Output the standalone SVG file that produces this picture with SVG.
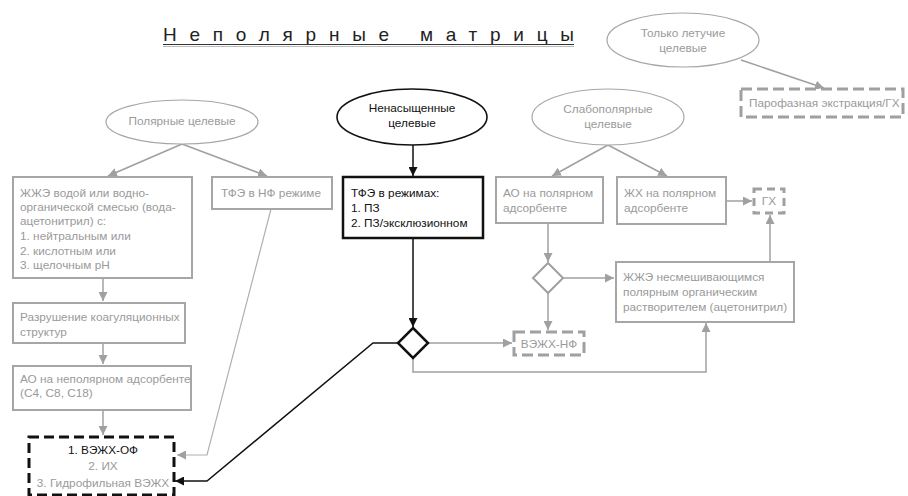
<svg xmlns="http://www.w3.org/2000/svg" width="908" height="496" viewBox="0 0 908 496">
<defs>
<style>
text{font-family:"Liberation Sans",Arial,sans-serif;font-size:11.8px;fill:#9a9a9a}
.dk{fill:#111}
.c{text-anchor:middle}
.gbox{fill:#fff;stroke:#a6a6a6;stroke-width:2}
.bbox{fill:#fff;stroke:#111;stroke-width:2.5}
.gdash{fill:#fff;stroke:#a0a0a0;stroke-width:3;stroke-dasharray:11 5}
.bdash{fill:#fff;stroke:#111;stroke-width:3;stroke-dasharray:10 5}
.gell{fill:#fff;stroke:#a6a6a6;stroke-width:1.2}
.bell{fill:#fff;stroke:#111;stroke-width:1.6}
.gl{fill:none;stroke:#a0a0a0;stroke-width:1.5;marker-end:url(#ga)}
.bl{fill:none;stroke:#111;stroke-width:1.5;marker-end:url(#ba)}
</style>
<marker id="ga" markerUnits="userSpaceOnUse" markerWidth="9" markerHeight="9" refX="9" refY="4.5" orient="auto"><path d="M0,0 L9,4.5 L0,9 z" fill="#a0a0a0"/></marker>
<marker id="ba" markerUnits="userSpaceOnUse" markerWidth="9" markerHeight="9" refX="9" refY="4.5" orient="auto"><path d="M0,0 L9,4.5 L0,9 z" fill="#111"/></marker>
</defs>
<rect width="908" height="496" fill="#fff"/>

<g id="title">
<text x="163" y="41" class="dk" style="font-size:19px;fill:#222" textLength="411" lengthAdjust="spacing">Неполярные матрицы</text>
<line x1="163" y1="44.5" x2="574" y2="44.5" stroke="#333" stroke-width="1.2"/>
<line x1="163" y1="46.5" x2="574" y2="46.5" stroke="#bbb" stroke-width="1.2"/>
</g>

<g id="connectors">
<path class="gl" d="M182,144 L108,176"/>
<path class="gl" d="M182,144 L267,176"/>
<path class="bl" d="M413,145 L413,176"/>
<path class="bl" d="M413,238 L413,327"/>
<path class="gl" d="M428,343 L512,343"/>
<path class="bl" d="M398,343 L373,343 L207,481 L175,481"/>
<path class="gl" d="M413,358 L413,372 L706,372 L706,323"/>
<path class="gl" d="M271,209 L207,455 L177,455" style="stroke:#b0b0b0;stroke-width:1.2"/>
<path class="gl" d="M103,278 L103,301"/>
<path class="gl" d="M103,343 L103,364"/>
<path class="gl" d="M103,410 L103,435"/>
<path class="gl" d="M608,145 L552,176"/>
<path class="gl" d="M608,145 L667,176"/>
<path class="gl" d="M548,223 L548,262"/>
<path class="gl" d="M563,278 L614,278"/>
<path class="gl" d="M548,293 L548,330"/>
<path class="gl" d="M726,201 L752,201"/>
<path class="gl" d="M770,262 L770,215"/>
<path class="gl" d="M741,60 L824,88"/>
</g>

<g id="polar">
<ellipse class="gell" cx="182" cy="122" rx="76" ry="22"/>
<text x="182" y="125" class="c">Полярные целевые</text>
</g>
<g id="unsat">
<ellipse class="bell" cx="412" cy="117" rx="75" ry="28"/>
<text x="412" y="112" class="c dk">Ненасыщенные</text>
<text x="412" y="127" class="c dk">целевые</text>
</g>
<g id="weakpolar">
<ellipse class="gell" cx="608" cy="117" rx="76" ry="28"/>
<text x="608" y="113" class="c">Слабополярные</text>
<text x="608" y="128" class="c">целевые</text>
</g>
<g id="volatile">
<ellipse class="gell" cx="683" cy="40" rx="76" ry="27"/>
<text x="683" y="37" class="c">Только летучие</text>
<text x="683" y="52" class="c">целевые</text>
</g>
<g id="headspace">
<rect class="gdash" x="741" y="89" width="162" height="28"/>
<text x="749" y="107">Парофазная экстракция/ГХ</text>
</g>

<g id="lle">
<rect class="gbox" x="13" y="177" width="179" height="101"/>
<text x="20" y="197">ЖЖЭ водой или водно-</text>
<text x="20" y="211">органической смесью (вода-</text>
<text x="20" y="225">ацетонитрил) с:</text>
<text x="20" y="240">1. нейтральным или</text>
<text x="20" y="255">2. кислотным или</text>
<text x="20" y="269">3. щелочным pH</text>
</g>
<g id="spe-np">
<rect class="gbox" x="212" y="177" width="120" height="32"/>
<text x="221" y="197">ТФЭ в НФ режиме</text>
</g>
<g id="destroy">
<rect class="gbox" x="13" y="303" width="172" height="40"/>
<text x="20" y="321">Разрушение коагуляционных</text>
<text x="20" y="336">структур</text>
</g>
<g id="ao-np">
<rect class="gbox" x="13" y="366" width="178" height="44"/>
<text x="20" y="383">АО на неполярном адсорбенте</text>
<text x="20" y="397">(С4, С8, С18)</text>
</g>
<g id="hplc-rp">
<rect class="bdash" x="29" y="437" width="145" height="58"/>
<text x="103" y="454" class="c dk">1. ВЭЖХ-ОФ</text>
<text x="103" y="470" class="c">2. ИХ</text>
<text x="103" y="487" class="c">3. Гидрофильная ВЭЖХ</text>
</g>

<g id="spe-modes">
<rect class="bbox" x="343" y="177" width="140" height="61"/>
<text x="351" y="197" class="dk">ТФЭ в режимах:</text>
<text x="351" y="212" class="dk">1. ПЗ</text>
<text x="351" y="227" class="dk">2. ПЗ/эксклюзионном</text>
</g>
<g id="diamond1">
<path d="M413,328 L428,343 L413,358 L398,343 z" fill="#fff" stroke="#111" stroke-width="2.5"/>
</g>
<g id="hplc-np">
<rect class="gdash" x="514" y="332" width="70" height="23"/>
<text x="549" y="348" class="c">ВЭЖХ-НФ</text>
</g>

<g id="ao-polar">
<rect class="gbox" x="496" y="177" width="107" height="46"/>
<text x="503" y="197">АО на полярном</text>
<text x="503" y="212">адсорбенте</text>
</g>
<g id="diamond2">
<path d="M548,263 L563,278 L548,293 L533,278 z" fill="#fff" stroke="#a0a0a0" stroke-width="2"/>
</g>
<g id="lc-polar">
<rect class="gbox" x="617" y="177" width="109" height="47"/>
<text x="624" y="197">ЖХ на полярном</text>
<text x="624" y="212">адсорбенте</text>
</g>
<g id="gc">
<rect class="gdash" x="754" y="189" width="30" height="24" style="stroke-dasharray:8 5"/>
<text x="769" y="205" class="c">ГХ</text>
</g>
<g id="lle-acn">
<rect class="gbox" x="616" y="262" width="178" height="60"/>
<text x="623" y="281">ЖЖЭ несмешивающимся</text>
<text x="623" y="296">полярным органическим</text>
<text x="623" y="311">растворителем (ацетонитрил)</text>
</g>
</svg>
